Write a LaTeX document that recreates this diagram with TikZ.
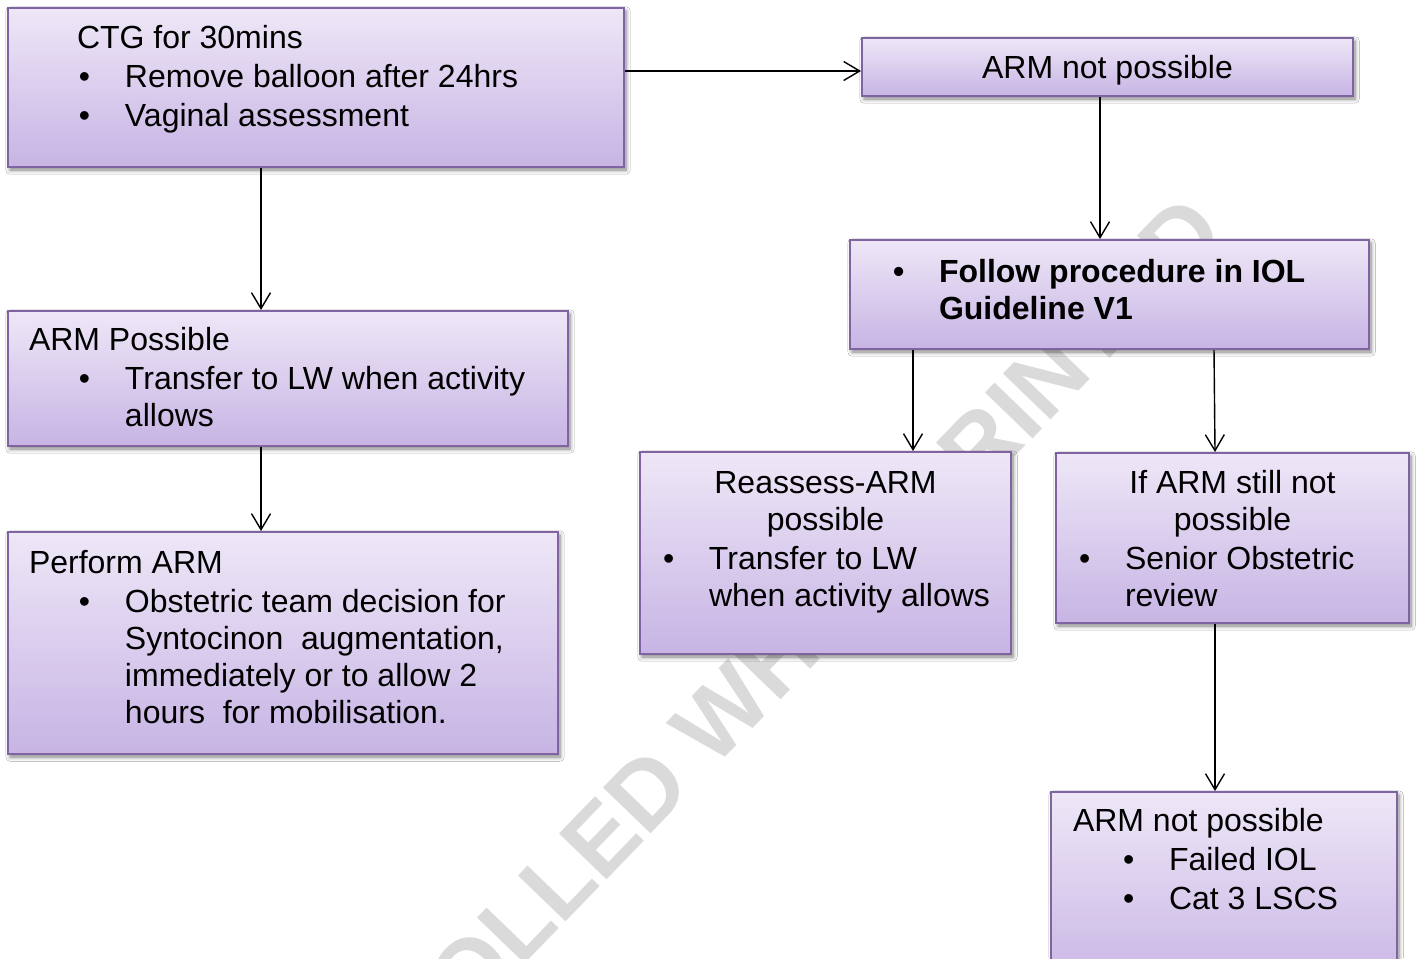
\documentclass[tikz,border=0pt]{standalone}
\usepackage{fontspec}
\setmainfont{Liberation Sans}
\usetikzlibrary{arrows.meta,shadows.blur,calc}

\definecolor{boxborder}{RGB}{128,100,162}
\definecolor{boxtop}{RGB}{238,231,247}
\definecolor{boxbot}{RGB}{199,180,228}
\definecolor{wmgray}{RGB}{218,218,218}

\newcommand\firststrut{\rule{0pt}{13pt}}
\newcommand\boxtext[4]{%
  \begin{minipage}[t][#2][t]{#1}%
  \fontsize{16pt}{18.5pt}\selectfont\parskip=1pt\relax\parindent=0pt\relax
  \vspace*{\dimexpr#3-14pt+1.25pt\relax}#4\end{minipage}}
\newcommand\pline[2]{{\leftskip=#1\relax\noindent #2\par}}
\newcommand\bline[3]{{\leftskip=#2\relax\noindent\llap{\makebox[\dimexpr#2-#1\relax][l]{\textbullet}}#3\par}}
\newcommand\ctrline[1]{{\centering #1\par}}

\tikzset{
  box/.style={rectangle, draw=boxborder, line width=1pt, top color=boxtop, bottom color=boxbot,
    inner sep=0pt, anchor=north west,
    blur shadow={shadow xshift=1pt, shadow yshift=-1.5pt, shadow blur steps=6, shadow opacity=50}},
  arr/.style={draw=black, line width=0.7pt, -{Straight Barb[length=8pt,width=9.5pt]}},
  wm/.style={rotate=46, text=wmgray, font=\fontsize{48pt}{56pt}\selectfont\bfseries, inner sep=0pt}
}

\begin{document}
\begin{tikzpicture}[x=0.5pt,y=-0.5pt]
\useasboundingbox (0,0) rectangle (1416,958);
\clip (0,0) rectangle (1416,958);
\fill[white] (0,0) rectangle (1416,958);

\node[wm] (wmark) at (658,779) {UNCONTROLLED WHEN PRINTED};

\node[box] (ctg) at (7,7) {\boxtext{308pt}{79.5pt}{20pt}{%
  \pline{34.5pt}{\firststrut CTG for 30mins}%
  \bline{35.5pt}{58.5pt}{Remove balloon after 24hrs}%
  \bline{35.5pt}{58.5pt}{Vaginal assessment}}};

\node[box] (toparm) at (861,37) {\boxtext{245.5pt}{29pt}{20pt}{%
  \ctrline{\firststrut ARM not possible}}};

\node[box] (follow) at (849,239) {\boxtext{259.5pt}{54.5pt}{21pt}{\bfseries
  \bline{21.5pt}{44.5pt}{\firststrut Follow procedure in IOL\newline Guideline V1}}};

\node[box] (armpos) at (7,310) {\boxtext{280pt}{67.5pt}{19.5pt}{%
  \pline{10.5pt}{\firststrut ARM Possible}%
  \bline{35.5pt}{58.5pt}{Transfer to LW when activity\newline allows}}};

\node[box] (perform) at (7,531) {\boxtext{275pt}{111pt}{20.5pt}{%
  \pline{10.5pt}{\firststrut Perform ARM}%
  \bline{35.5pt}{58.5pt}{Obstetric team decision for\newline Syntocinon\ \ augmentation,\newline immediately or to allow 2\newline hours\ \ for mobilisation.}}};

\node[box] (reassess) at (639,451) {\boxtext{185.5pt}{101pt}{20.5pt}{%
  \ctrline{\firststrut Reassess-ARM\\possible}%
  \bline{11.5pt}{34.5pt}{Transfer to LW\newline when activity allows}}};

\node[box] (ifarm) at (1055,452) {\boxtext{176.5pt}{85pt}{20pt}{%
  \ctrline{\firststrut If ARM still not\\possible}%
  \bline{11.5pt}{34.5pt}{Senior Obstetric\newline review}}};

\node[box] (bottom) at (1050,791) {\boxtext{173pt}{100pt}{19.5pt}{%
  \pline{11pt}{\firststrut ARM not possible}%
  \bline{36pt}{59pt}{Failed IOL}%
  \bline{36pt}{59pt}{Cat 3 LSCS}}};

\draw[arr] ($(ctg.north east)+(0,64)$) -- ($(toparm.north west)+(0,34)$);
\draw[arr] ($(ctg.south west)+(254,0)$) -- ($(armpos.north west)+(254,0)$);
\draw[arr] ($(toparm.south west)+(239,0)$) -- ($(follow.north west)+(251,0)$);
\draw[arr] ($(armpos.south west)+(254,0)$) -- ($(perform.north west)+(254,0)$);
\draw[arr] ($(follow.south west)+(64,0)$) -- ($(reassess.north west)+(274,0)$);
\draw[arr] ($(follow.south west)+(365,0)$) -- ($(ifarm.north west)+(160,0)$);
\draw[arr] ($(ifarm.south west)+(160,0)$) -- ($(bottom.north west)+(165,0)$);
\end{tikzpicture}
\end{document}
